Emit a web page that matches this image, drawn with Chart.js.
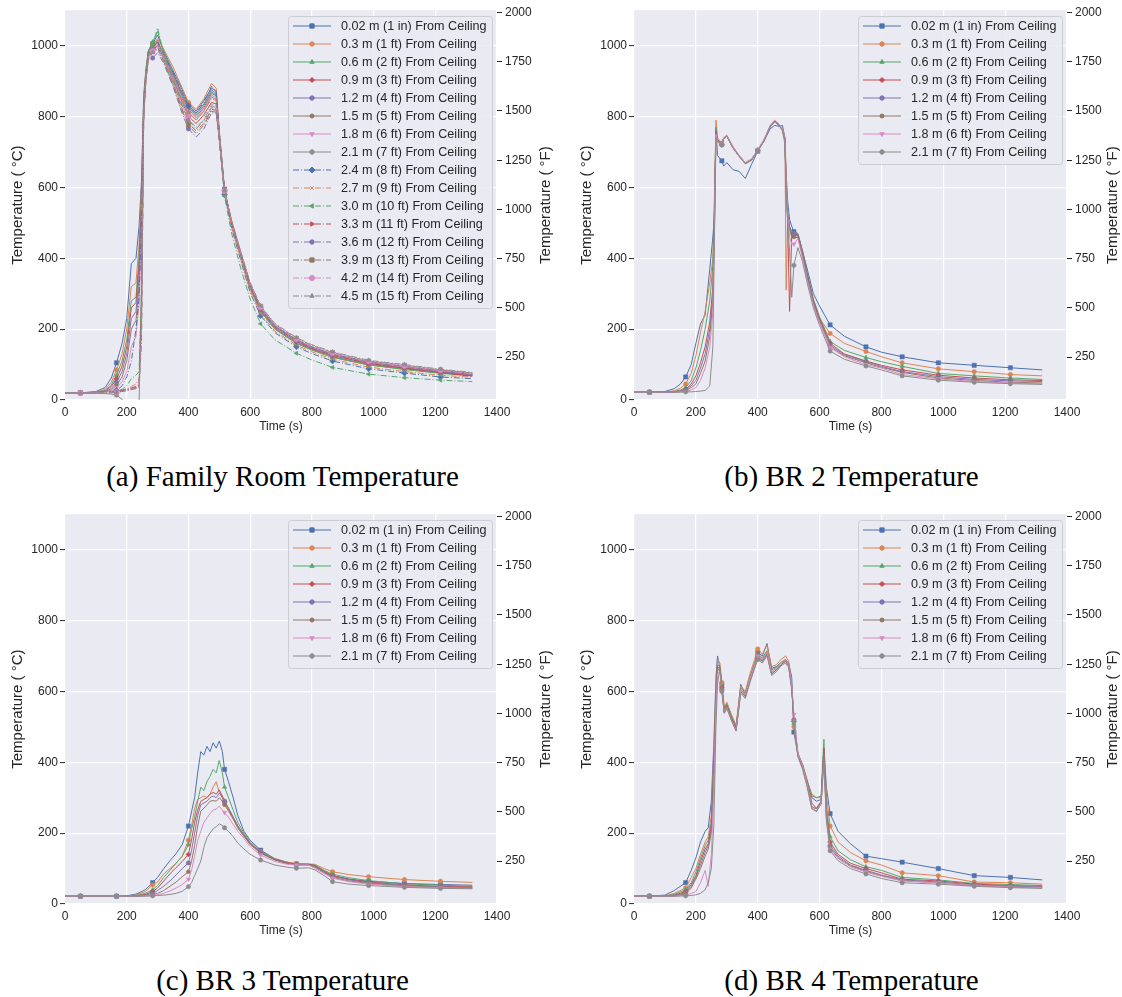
<!DOCTYPE html>
<html>
<head>
<meta charset="utf-8">
<script src="https://cdn.jsdelivr.net/npm/chart.js@4.4.1/dist/chart.umd.min.js"></script>
<style>
  body { margin: 0; background: #fff; width: 1122px; height: 997px; position: relative; overflow: hidden; }
  canvas { position: absolute; }
  .cap { position: absolute; width: 561px; height: 40px; line-height: 40px; text-align: center;
         font-family: "Liberation Serif", "Times New Roman", serif; font-size: 29px; color: #000; white-space: nowrap; }
</style>
</head>
<body>
<canvas id="famRoom" width="561" height="440" style="left:0;top:0"></canvas>
<canvas id="br2" width="553" height="440" style="left:569px;top:0"></canvas>
<canvas id="br3" width="561" height="440" style="left:0;top:504px"></canvas>
<canvas id="br4" width="553" height="440" style="left:569px;top:504px"></canvas>
<div class="cap" style="left:2px;top:456px">(a) Family Room Temperature</div>
<div class="cap" style="left:571px;top:456px">(b) BR 2 Temperature</div>
<div class="cap" style="left:2px;top:960px">(c) BR 3 Temperature</div>
<div class="cap" style="left:571px;top:960px">(d) BR 4 Temperature</div>
<script>
// Temperatures at each thermocouple depth (deg C)

const sensorLabels = [
    '0.02 m (1 in) From Ceiling', '0.3 m (1 ft) From Ceiling', '0.6 m (2 ft) From Ceiling',
    '0.9 m (3 ft) From Ceiling', '1.2 m (4 ft) From Ceiling', '1.5 m (5 ft) From Ceiling',
    '1.8 m (6 ft) From Ceiling', '2.1 m (7 ft) From Ceiling', '2.4 m (8 ft) From Ceiling',
    '2.7 m (9 ft) From Ceiling', '3.0 m (10 ft) From Ceiling', '3.3 m (11 ft) From Ceiling',
    '3.6 m (12 ft) From Ceiling', '3.9 m (13 ft) From Ceiling', '4.2 m (14 ft) From Ceiling',
    '4.5 m (15 ft) From Ceiling'
];

const timeTicks = [0, 200, 400, 600, 800, 1000, 1200, 1400];
const celsiusTicks = [0, 200, 400, 600, 800, 1000];
const fahrenheitTicks = [250, 500, 750, 1000, 1250, 1500, 1750, 2000];
const markerTimes = [50, 167, 284, 400, 517, 634, 750, 867, 984, 1100, 1217];

// (a) Family Room
const familyTime = [0, 50, 100, 130, 150, 167, 185, 200, 215, 230, 240, 248, 255, 262, 270, 284, 300, 320, 350, 380,
    400, 425, 450, 475, 490, 500, 517, 540, 570, 600, 634, 680, 750, 800, 867, 984, 1100, 1217, 1320];
const familyTemps = [
    [20,20,24,35,62,105,160,230,385,400,490,620,860,930,985,1005,1030,985,930,875,835,815,845,880,872,760,595,500,408,318,252,202,162,143,122,100,88,77,70],
    [20,20,22,30,50,85,130,200,320,330,440,600,850,930,985,1000,1020,990,940,880,840,820,850,893,880,760,592,498,406,316,250,200,160,141,120,99,87,77,70],
    [20,20,21,27,42,70,110,170,280,290,400,580,840,925,985,1010,1040,980,925,860,825,805,830,870,860,750,590,498,405,315,250,200,160,141,121,99,86,75,68],
    [20,20,21,25,38,60,95,150,260,275,380,560,830,920,980,995,1010,965,905,840,800,780,805,840,835,740,590,500,410,322,257,207,166,146,126,103,90,78,68],
    [20,20,20,23,32,50,80,130,230,250,350,540,820,915,975,990,1000,970,920,865,830,810,835,875,865,750,590,500,410,322,256,206,166,146,126,104,91,80,71],
    [20,20,20,22,28,42,65,110,200,225,320,520,815,915,975,995,1015,975,915,855,820,800,825,865,858,748,590,502,412,324,258,208,168,148,128,106,93,82,73],
    [20,20,20,21,25,35,52,80,150,180,270,480,810,910,970,990,1005,970,910,850,815,795,820,860,852,745,590,502,412,324,258,208,168,148,128,106,93,82,73],
    [20,20,19,18,17,14,2,-20,-20,-20,-20,350,800,905,970,985,1000,965,905,845,810,790,815,855,848,745,590,503,413,325,260,210,170,150,130,108,95,84,74],
    [20,20,20,21,23,27,40,65,110,200,290,500,820,915,975,990,1010,975,925,868,830,808,840,885,870,745,580,485,392,303,238,190,150,131,110,88,76,65,60],
    [20,20,20,20,22,25,28,32,38,45,60,300,810,910,970,985,1000,965,910,850,810,790,815,850,845,740,582,488,396,308,243,194,155,136,115,93,80,70,64],
    [20,20,20,20,22,25,30,40,60,70,80,300,820,920,980,1000,1050,975,905,830,790,770,790,830,825,730,575,470,370,285,215,170,132,113,92,73,63,56,52],
    [20,20,20,20,21,24,27,30,34,38,45,250,810,910,970,985,1000,960,895,820,780,760,780,820,818,735,590,500,410,322,256,206,166,146,126,103,90,78,66],
    [20,20,20,20,21,23,26,29,32,36,42,220,800,900,960,965,980,950,885,808,765,742,765,810,810,735,590,503,413,326,260,210,170,150,130,107,95,82,72],
    [20,20,20,20,21,23,25,28,31,34,40,200,800,905,965,985,995,955,888,815,775,752,775,815,812,738,590,505,416,330,264,214,174,154,134,110,98,85,76],
    [20,20,20,20,21,22,24,27,30,33,38,180,800,905,965,985,1000,962,900,835,800,780,800,835,830,740,590,504,414,328,262,212,172,152,132,109,96,84,74],
    [20,20,20,20,20,22,24,26,29,32,36,160,790,900,960,980,990,955,895,828,790,765,788,825,822,740,592,507,418,332,266,216,176,156,136,112,100,87,78]
];

// (b) BR 2
const br2Time = [0, 50, 100, 130, 150, 167, 185, 200, 215, 230, 245, 255, 260, 265, 270, 284, 290, 300, 320, 340,
    360, 380, 400, 420, 440, 455, 470, 480, 488, 492, 497, 503, 510, 517, 530, 545, 560, 580, 600, 634,
    680, 750, 800, 867, 984, 1100, 1217, 1320];
const br2Temps = [
    [22,22,24,32,45,65,100,160,215,240,370,460,520,770,690,675,660,670,650,645,625,665,702,730,765,775,772,775,740,640,560,510,490,475,470,420,370,300,265,212,180,150,135,122,105,98,91,85],
    [22,22,22,26,33,45,75,125,190,250,330,400,560,790,740,725,740,745,715,690,670,680,705,730,770,785,775,760,720,310,520,480,470,468,465,410,350,280,230,188,160,137,122,105,88,80,72,68],
    [22,22,22,24,28,35,55,90,140,200,280,380,560,770,735,722,738,745,712,688,668,678,705,732,772,787,775,765,740,560,520,490,475,470,468,420,360,285,235,165,140,120,108,95,75,68,62,58],
    [22,22,22,23,26,30,45,68,105,150,220,320,520,760,735,720,738,745,712,688,668,678,705,732,772,787,775,762,735,600,500,250,470,468,466,415,355,280,230,160,130,110,98,85,70,62,57,55],
    [22,22,22,23,25,28,40,55,90,130,200,300,500,755,730,720,738,745,712,688,668,678,705,732,772,787,775,762,735,620,530,490,470,466,462,410,350,275,225,155,128,108,95,80,66,58,54,52],
    [22,22,22,22,24,26,35,45,75,110,180,280,480,750,730,720,738,745,712,688,668,678,705,732,772,787,775,762,735,610,520,480,460,460,458,405,345,270,220,150,125,105,92,78,62,55,50,48],
    [22,22,22,22,23,24,28,35,55,90,150,250,470,750,730,722,740,748,714,690,670,680,707,735,775,790,778,765,738,615,520,460,440,440,455,400,340,268,218,148,122,100,90,72,60,52,48,46],
    [22,22,22,22,22,23,23,24,25,27,40,150,450,740,728,720,738,745,712,688,666,676,703,730,770,785,773,760,732,600,500,420,290,380,430,390,330,260,210,138,115,96,85,68,56,50,46,44]
];

// (c) BR 3
const br3Time = [0, 50, 100, 167, 200, 230, 260, 284, 300, 320, 340, 360, 380, 400, 410, 420, 430, 440, 450, 460,
    470, 480, 490, 500, 510, 517, 530, 545, 560, 580, 600, 634, 680, 720, 750, 790, 810, 840, 867, 920,
    984, 1100, 1217, 1320];
const br3Temps = [
    [22,22,22,22,23,28,40,60,75,100,122,142,168,220,260,300,370,430,420,445,430,455,440,460,430,380,345,300,250,205,180,152,128,118,113,112,108,92,80,70,64,58,55,53],
    [22,22,22,22,23,25,35,54,62,85,100,115,135,180,220,270,295,300,305,300,310,330,345,315,300,285,265,240,215,190,170,148,128,118,114,113,112,100,91,83,77,69,64,61],
    [22,22,22,22,22,24,30,40,52,75,95,115,135,167,210,245,290,330,320,345,360,380,370,405,370,330,300,265,230,200,175,148,127,116,112,112,110,95,84,74,66,57,53,50],
    [22,22,22,22,22,23,27,35,45,65,85,103,120,140,180,230,265,290,295,300,310,315,310,322,305,290,270,245,220,195,172,145,126,116,112,112,108,92,80,70,62,54,50,48],
    [22,22,22,22,22,22,25,30,38,50,65,82,100,116,150,200,250,280,285,290,300,305,300,313,300,290,270,245,220,195,170,145,125,115,111,111,106,90,78,68,60,52,48,46],
    [22,22,22,22,22,22,24,26,30,38,50,62,77,91,120,165,220,262,270,280,290,292,290,300,290,280,262,240,215,192,168,143,124,114,110,110,104,88,75,65,58,50,47,45],
    [22,22,22,22,22,22,23,24,26,30,37,45,55,70,95,135,180,205,230,243,255,265,268,276,265,258,245,225,205,185,162,138,120,112,110,110,100,86,73,63,56,49,46,44],
    [22,22,22,22,22,22,22,23,24,25,27,30,36,49,60,80,100,121,160,187,200,212,218,226,222,215,205,190,172,155,140,124,110,104,101,102,96,80,63,56,52,47,44,43]
];

// (d) BR 4
const br4Time = [0, 50, 100, 130, 167, 185, 200, 215, 230, 240, 250, 258, 265, 270, 278, 284, 292, 300, 315, 330,
    345, 360, 375, 390, 400, 415, 430, 445, 460, 475, 490, 500, 510, 517, 530, 545, 560, 575, 590, 605,
    614, 622, 634, 660, 700, 750, 800, 867, 984, 1100, 1217, 1320];
const br4Temps = [
    [22,22,25,38,60,95,130,175,205,215,290,450,640,700,665,620,540,560,530,495,620,590,640,680,710,700,735,665,670,680,690,680,640,485,420,390,340,300,290,295,440,330,255,205,170,135,128,118,100,80,75,68],
    [22,22,23,30,45,75,100,140,175,190,250,420,620,690,680,625,555,570,535,505,615,600,650,690,720,705,730,670,675,690,700,685,620,500,420,392,345,310,300,300,440,310,220,175,145,122,110,88,80,62,60,56],
    [22,22,22,27,40,60,90,130,165,180,230,400,600,675,670,615,550,565,530,500,610,595,640,680,705,695,715,660,668,682,690,678,615,510,425,395,350,305,300,305,465,280,190,150,125,105,95,75,68,58,55,52],
    [22,22,22,25,35,55,80,120,155,170,220,380,590,670,665,610,545,560,525,495,605,590,635,675,700,690,710,655,665,680,688,676,615,515,425,392,345,285,270,290,440,260,175,140,115,100,88,70,65,56,52,50],
    [22,22,22,24,32,50,75,110,145,165,210,370,580,665,660,605,540,555,520,490,600,585,630,670,695,685,705,650,660,675,685,672,610,520,420,385,335,270,262,285,420,250,165,135,110,95,82,68,62,54,50,48],
    [22,22,22,23,28,45,70,100,135,155,200,350,570,660,660,605,540,555,520,490,600,585,630,670,695,685,705,650,660,675,685,672,610,520,420,385,335,275,268,288,425,245,160,130,108,92,80,66,60,52,48,46],
    [22,22,22,22,25,30,35,60,95,50,140,320,560,650,655,600,540,555,520,490,605,590,635,675,700,690,710,655,665,680,690,675,620,535,425,390,340,272,260,285,400,240,155,128,105,90,78,65,60,52,48,46],
    [22,22,22,22,23,24,26,30,40,60,100,220,500,620,665,600,538,552,518,488,595,580,625,665,690,680,700,645,655,672,680,668,605,515,415,380,330,268,262,282,410,235,150,122,100,85,72,60,56,50,46,44]
];

// seaborn "deep", cycled every 8 sensors
const lineColors = ['#4C72B0', '#DD8452', '#55A868', '#C44E52', '#8172B3', '#937860', '#DA8BC3', '#8C8C8C'];
const markerStyles = [
    { style: 'rect', rot: 0, r: 3 }, { style: 'circle', rot: 0, r: 2.2 }, { style: 'triangle', rot: 0, r: 2.5 },
    { style: 'rectRot', rot: 0, r: 2.5 }, { style: 'circle', rot: 0, r: 2.2 }, { style: 'circle', rot: 0, r: 2 },
    { style: 'triangle', rot: 180, r: 2.5 }, { style: 'circle', rot: 0, r: 2.2 }, { style: 'rectRot', rot: 0, r: 3 },
    { style: 'crossRot', rot: 0, r: 2.5 }, { style: 'triangle', rot: 270, r: 2.5 }, { style: 'triangle', rot: 90, r: 2.5 },
    { style: 'circle', rot: 0, r: 2.2 }, { style: 'rect', rot: 0, r: 3 }, { style: 'circle', rot: 0, r: 2.6 },
    { style: 'triangle', rot: 0, r: 2.5 }
];

const TICK = '#262626';
const PLOT_BG = '#EAEAF2';
Chart.defaults.font.family = '"Liberation Sans", Arial, sans-serif';
Chart.defaults.color = TICK;

const plainTick = (v) => String(v);

const plotBackground = {
    id: 'plotBackground',
    beforeDraw(chart) {
        const { ctx, chartArea: a } = chart;
        ctx.save();
        ctx.fillStyle = PLOT_BG;
        ctx.fillRect(a.left, a.top, a.right - a.left, a.bottom - a.top);
        ctx.restore();
    }
};

// right-hand axis label, reading bottom to top like the left one
const rightTitle = {
    id: 'rightTitle',
    afterDraw(chart, args, opts) {
        const { ctx, chartArea: a } = chart;
        ctx.save();
        ctx.translate(chart.width - opts.inset, (a.top + a.bottom) / 2);
        ctx.rotate(-Math.PI / 2);
        ctx.font = '15px "Liberation Sans", Arial, sans-serif';
        ctx.fillStyle = TICK;
        ctx.textAlign = 'center';
        ctx.textBaseline = 'middle';
        ctx.fillText(opts.text, 0, 0);
        ctx.restore();
    }
};

// matplotlib-style framed legend in the upper right of the axes
const boxLegend = {
    id: 'boxLegend',
    afterDatasetsDraw(chart) {
        const { ctx, chartArea } = chart;
        const sets = chart.data.datasets;
        ctx.save();
        ctx.font = '12.6px "Liberation Sans", Arial, sans-serif';
        let textW = 0;
        sets.forEach(ds => { textW = Math.max(textW, ctx.measureText(ds.label).width); });
        const rowH = 18;
        const w = Math.round(5 + 38 + 10 + textW + 5);
        const h = 10 + (sets.length - 1) * rowH + 12;
        const x0 = Math.round(chartArea.right - 5 - w);
        const y0 = Math.round(chartArea.top + 6);

        ctx.beginPath();
        if (ctx.roundRect) ctx.roundRect(x0 + 0.5, y0 + 0.5, w, h, 3);
        else ctx.rect(x0 + 0.5, y0 + 0.5, w, h);
        ctx.fillStyle = 'rgba(234, 234, 242, 0.85)';
        ctx.fill();
        ctx.strokeStyle = '#cdcdd4';
        ctx.lineWidth = 1;
        ctx.stroke();

        sets.forEach((ds, i) => {
            const y = y0 + 10 + i * rowH;
            ctx.strokeStyle = ds.borderColor;
            ctx.lineWidth = ds.borderWidth;
            ctx.setLineDash(ds.borderDash || []);
            ctx.beginPath();
            ctx.moveTo(x0 + 5, y);
            ctx.lineTo(x0 + 43, y);
            ctx.stroke();
            ctx.setLineDash([]);
            ctx.fillStyle = ds.borderColor;
            const m = markerStyles[i];
            if (Chart.helpers && Chart.helpers.drawPoint) {
                Chart.helpers.drawPoint(ctx, { pointStyle: m.style, radius: m.r, rotation: m.rot, borderWidth: 0.5 }, x0 + 24, y);
            } else {
                ctx.beginPath();
                ctx.arc(x0 + 24, y, m.r, 0, Math.PI * 2);
                ctx.fill();
            }
            ctx.fillStyle = TICK;
            ctx.textBaseline = 'middle';
            ctx.textAlign = 'left';
            ctx.fillText(ds.label, x0 + 53, y + 0.5);
        });
        ctx.restore();
    }
};

function buildChart(canvasId, time, temps, rightWidth, rightInset) {
    const n = temps.length;
    const datasets = temps.map((vals, i) => {
        const m = markerStyles[i];
        return {
            label: sensorLabels[i],
            data: time.map((t, k) => ({ x: t, y: vals[k] })),
            borderColor: lineColors[i % 8],
            backgroundColor: lineColors[i % 8],
            borderWidth: 1,
            borderDash: i >= 8 ? [6, 2, 1, 2] : [],
            tension: 0,
            pointStyle: m.style,
            pointRotation: m.rot,
            pointBorderWidth: 0.5,
            pointRadius: (c) => (c.raw && markerTimes.includes(c.raw.x) ? m.r : 0),
            pointHoverRadius: 0,
            order: n - i,
            yAxisID: 'y',
        };
    });

    return new Chart(document.getElementById(canvasId).getContext('2d'), {
        type: 'line',
        data: { datasets },
        options: {
            responsive: false,
            animation: false,
            devicePixelRatio: 1,
            events: [],
            layout: { padding: { top: 9, left: 0, right: 0, bottom: 0 } },
            plugins: {
                legend: { display: false },
                tooltip: { enabled: false },
                rightTitle: { text: 'Temperature ( °F)', inset: rightInset },
            },
            scales: {
                x: {
                    type: 'linear',
                    min: 0,
                    max: 1400,
                    afterBuildTicks: (ax) => { ax.ticks = timeTicks.map(v => ({ value: v })); },
                    afterFit: (ax) => { ax.height = 40; },
                    grid: { color: '#ffffff', lineWidth: 1.2, drawTicks: false },
                    border: { display: false },
                    ticks: { color: TICK, font: { size: 12 }, padding: 5, maxRotation: 0, callback: plainTick },
                    title: { display: true, text: 'Time (s)', color: TICK, font: { size: 12 }, padding: { top: 0, bottom: 6 } },
                },
                y: {
                    position: 'left',
                    min: 0,
                    max: 1100,
                    afterBuildTicks: (ax) => { ax.ticks = celsiusTicks.map(v => ({ value: v })); },
                    afterFit: (ax) => { ax.width = 65; },
                    grid: { color: '#ffffff', lineWidth: 1.2, tickColor: TICK, tickLength: 5, tickWidth: 1 },
                    border: { display: false },
                    ticks: { color: TICK, font: { size: 12 }, padding: 2, callback: plainTick },
                    title: { display: true, text: 'Temperature ( °C)', color: TICK, font: { size: 15 }, padding: { top: 9, bottom: 0 } },
                },
                yF: {
                    position: 'right',
                    min: 32,
                    max: 2012,
                    afterBuildTicks: (ax) => { ax.ticks = fahrenheitTicks.map(v => ({ value: v })); },
                    afterFit: (ax) => { ax.width = rightWidth; },
                    grid: { drawOnChartArea: false, tickColor: TICK, tickLength: 5, tickWidth: 1 },
                    border: { display: false },
                    ticks: { color: TICK, font: { size: 12 }, padding: 3, callback: plainTick },
                    title: { display: false },
                },
            },
        },
        plugins: [plotBackground, boxLegend, rightTitle],
    });
}

buildChart('famRoom', familyTime, familyTemps, 64, 15);
buildChart('br2', br2Time, br2Temps, 55, 9);
buildChart('br3', br3Time, br3Temps, 64, 15);
buildChart('br4', br4Time, br4Temps, 55, 9);
</script>
</body>
</html>
